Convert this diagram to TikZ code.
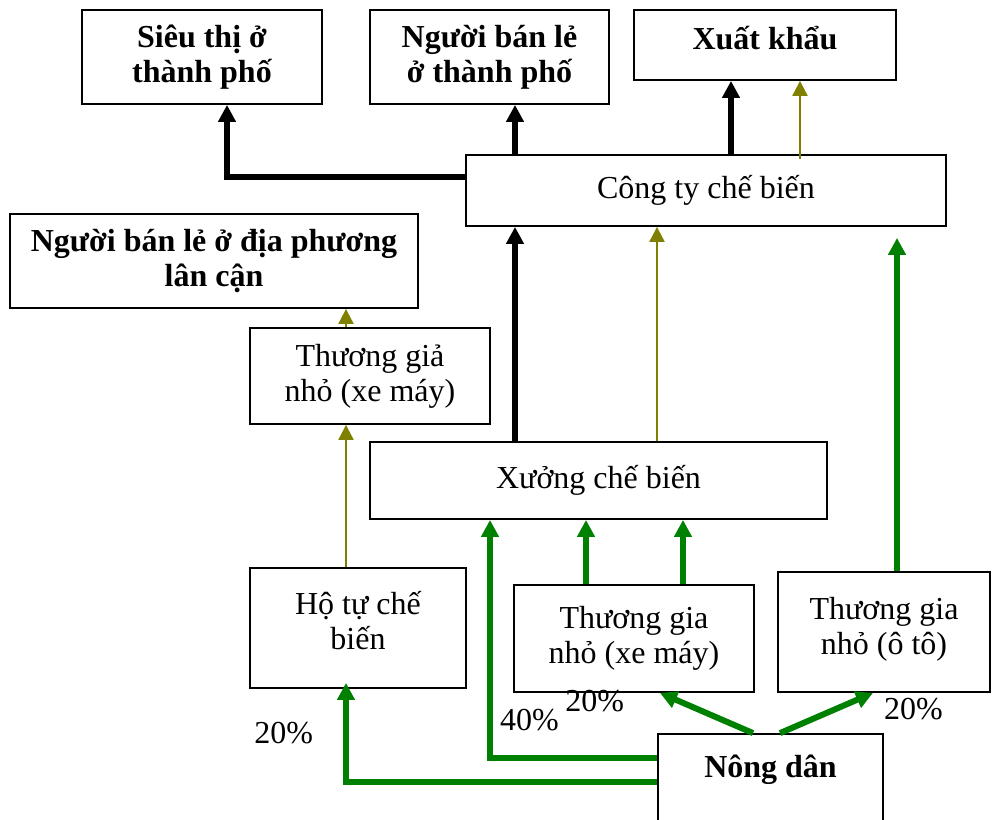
\documentclass[tikz,border=0pt]{standalone}
\usepackage{fontspec}
\setmainfont{Liberation Serif}
\usepackage{tikz}
\usetikzlibrary{arrows.meta, positioning, calc}
\definecolor{flowgreen}{RGB}{0, 128, 0}
\definecolor{flowolive}{RGB}{128, 128, 0}

\begin{document}
\begin{tikzpicture}[
    x=0.5pt, y=-0.5pt,
    box/.style={draw, line width=0.9pt, align=center, inner sep=0pt, font=\fontsize{16}{17.5}\selectfont},
    bbox/.style={box, font=\fontsize{16}{17.5}\selectfont\bfseries},
    pct/.style={font=\fontsize{16}{17.5}\selectfont, inner sep=0pt, text=black},
    blkarrow/.style={-{Triangle[length=8.5pt, width=8.5pt]}, line width=3pt, black},
    olivearrow/.style={-{Triangle[length=7.5pt, width=7.5pt]}, line width=1pt, flowolive},
    greenarrow/.style={-{Triangle[length=8.5pt, width=8.5pt]}, line width=3pt, flowgreen}
]
\useasboundingbox (0,0) rectangle (992,820);

% buyers
\node[bbox, minimum width=120pt, minimum height=47pt] (sieuthi) at (202,57) {Siêu thị ở\\thành phố};
\node[bbox, minimum width=119.5pt, minimum height=47pt] (banle) at (489.5,57) {Người bán lẻ\\ở thành phố};
\node[bbox, minimum width=131pt, minimum height=35pt, text depth=7pt] (xuatkhau) at (765,45) {Xuất khẩu};
\node[box, minimum width=240pt, minimum height=35.5pt] (congty) at (706,190.5) {Công ty chế biến};
\node[bbox, minimum width=204pt, minimum height=47pt] (banledp) at (214,261) {Người bán lẻ ở địa phương\\lân cận};

% middlemen
\node[box, minimum width=120pt, minimum height=48pt] (thuonggia) at (370,376) {Thương giả\\nhỏ (xe máy)};
\node[box, minimum width=228.5pt, minimum height=38.5pt] (xuong) at (598.5,480.5) {Xưởng chế biến};
\node[box, minimum width=108pt, minimum height=60pt, text depth=7.5pt] (hotu) at (358,628) {Hộ tự chế\\biến};
\node[box, minimum width=120pt, minimum height=53.5pt] (tgxemay) at (634,638.5) {Thương gia\\nhỏ (xe máy)};
\node[box, minimum width=106pt, minimum height=60pt, text depth=6pt] (tgoto) at (884,632) {Thương gia\\nhỏ (ô tô)};
\node[bbox, minimum width=112.5pt, minimum height=50pt, text depth=18pt] (nongdan) at (770.5,784) {Nông dân};

% top level flows
\draw[blkarrow] ([yshift=6.75pt]congty.west) -| ([xshift=12.5pt]sieuthi.south);
\draw[blkarrow] ([xshift=-95.5pt]congty.north) -- ([xshift=12.75pt]banle.south);
\draw[blkarrow] ([xshift=12.5pt]congty.north) -- ([xshift=-17pt]xuatkhau.south);
\draw[olivearrow] ([xshift=47pt, yshift=-2.5pt]congty.north) -- ([xshift=17.5pt]xuatkhau.south);

% into the company
\draw[blkarrow] ([xshift=-41.75pt]xuong.north) -- ([xshift=-95.5pt]congty.south);
\draw[olivearrow] ([xshift=29.25pt]xuong.north) -- ([xshift=-24.5pt]congty.south);
\draw[greenarrow] ([xshift=6.5pt]tgoto.north) -- ([xshift=95.5pt, yshift=-5.5pt]congty.south);

% local chain
\draw[olivearrow] ([xshift=-12pt]thuonggia.north) -- ([xshift=66pt]banledp.south);
\draw[olivearrow] ([xshift=-6pt]hotu.north) -- ([xshift=-12pt]thuonggia.south);
\draw[greenarrow] ([xshift=-24pt]tgxemay.north) -- ([xshift=-6.25pt]xuong.south);
\draw[greenarrow] ([xshift=24.5pt]tgxemay.north) -- ([xshift=42.25pt]xuong.south);

% from the farmers
\draw[greenarrow] ([yshift=13pt]nongdan.west) -| node[pos=0.58, anchor=west, pct, xshift=3.5pt] {40\%} ([xshift=-54.25pt]xuong.south);
\draw[greenarrow] ([yshift=1pt]nongdan.west) -| node[pos=0.745, anchor=east, pct, xshift=-15pt] {20\%} ([xshift=-6pt, yshift=3pt]hotu.south);
\draw[greenarrow] ([xshift=-8.75pt]nongdan.north) -- node[at end, anchor=east, pct, xshift=-16.5pt, yshift=-4pt] {20\%} ([xshift=13pt]tgxemay.south);
\draw[greenarrow] ([xshift=4.75pt]nongdan.north) -- node[at end, anchor=west, pct, xshift=4pt, yshift=-8pt] {20\%} ([xshift=-5.5pt]tgoto.south);

\end{tikzpicture}
\end{document}
